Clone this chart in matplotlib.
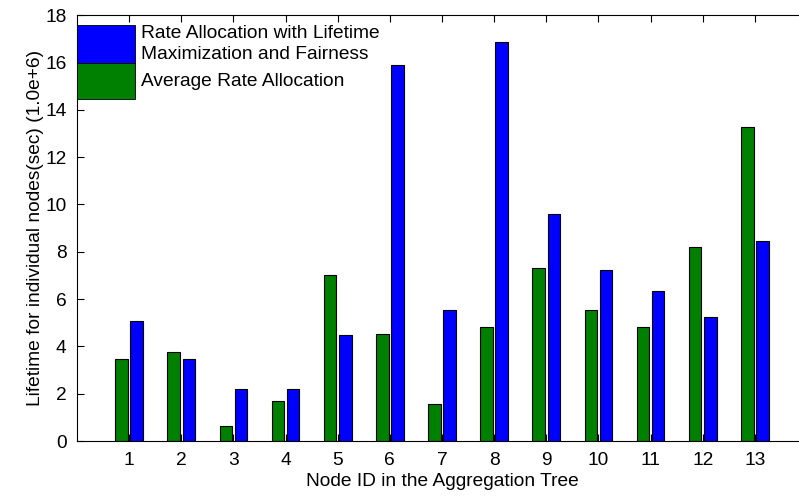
import numpy as np
import matplotlib.pyplot as plt
from matplotlib.patches import Rectangle

plt.rcParams['font.family'] = ['Liberation Sans', 'DejaVu Sans']

nodes = list(range(1, 14))
avg_rate = [3.46, 3.77, 0.62, 1.68, 7.03, 4.53, 1.58, 4.83, 7.31, 5.52, 4.82, 8.21, 13.28]
lifetime_max = [5.06, 3.48, 2.20, 2.20, 4.46, 15.88, 5.53, 16.86, 9.58, 7.24, 6.32, 5.22, 8.44]
labels = ['Rate Allocation with Lifetime\nMaximization and Fairness', 'Average Rate Allocation']
colors = ['#0000ff', '#008000']

W, H = 799, 498
fs = 13.8
fig = plt.figure(figsize=(W / 100, H / 100), dpi=100)
ax = fig.add_axes([77 / W, 57 / H, 730 / W, 426 / H])

x = np.array(nodes)
bw = 0.24
ax.bar(x - 0.145, avg_rate, bw, color=colors[1], edgecolor='black', linewidth=0.8)
ax.bar(x + 0.145, lifetime_max, bw, color=colors[0], edgecolor='black', linewidth=0.8)

ax.set_xlim(0, 14)
ax.set_ylim(0, 18)
ax.set_xticks(nodes)
ax.set_yticks(range(0, 19, 2))
ax.tick_params(direction='in', length=5, width=0.8, labelsize=fs,
               top=True, right=False, colors='black')
ax.tick_params(axis='x', pad=8)
ax.tick_params(axis='y', pad=7.5)
for s in ax.spines.values():
    s.set_linewidth(0.8)

ax.set_xlabel('Node ID in the Aggregation Tree', fontsize=fs, labelpad=3)
ax.set_ylabel('Lifetime for individual nodes(sec) (1.0e+6)', fontsize=fs, labelpad=1)

# legend drawn MATLAB-style: big patches touching each other, no frame
pw = 58 / 730
tops = [0.977, 0.887, 0.803]
for i in range(2):
    ax.add_patch(Rectangle((0, tops[i + 1]), pw, tops[i] - tops[i + 1], transform=ax.transAxes,
                           facecolor=colors[i], edgecolor='black', linewidth=0.6,
                           clip_on=False, zorder=5))
    ax.text(0.088, (tops[i] + tops[i + 1]) / 2, labels[i], transform=ax.transAxes,
            fontsize=fs, va='center', ha='left', linespacing=1.25, zorder=5)

fig.savefig('out.png', dpi=100)
